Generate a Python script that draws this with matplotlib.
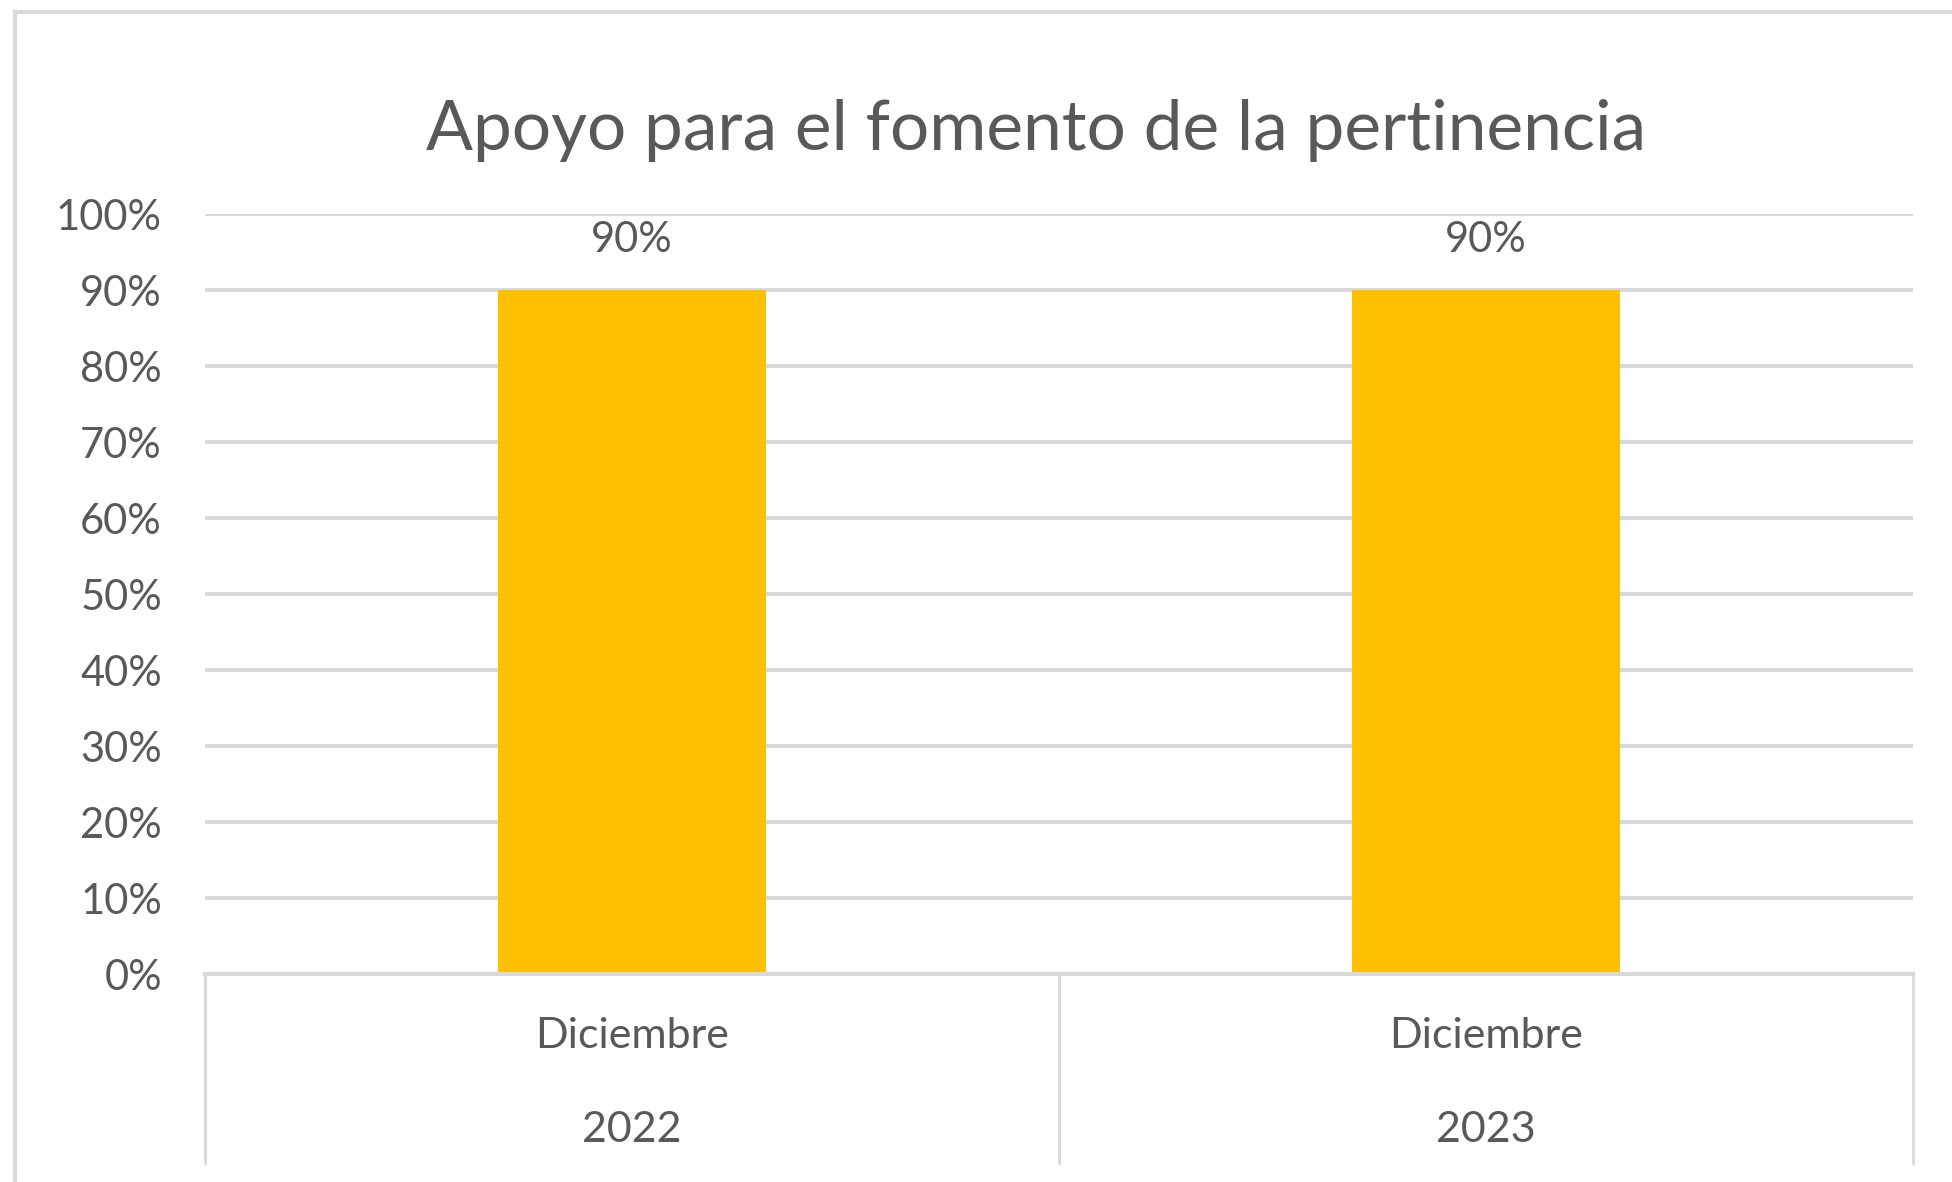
import matplotlib
matplotlib.use("Agg")
import matplotlib.pyplot as plt
from matplotlib.lines import Line2D

title = "Apoyo para el fomento de la pertinencia"
months = ["Diciembre", "Diciembre"]
years = ["2022", "2023"]
values = [0.90, 0.90]
yticks = [0, 0.1, 0.2, 0.3, 0.4, 0.5, 0.6, 0.7, 0.8, 0.9, 1.0]

plt.rcParams['font.family'] = ['Lato', 'DejaVu Sans']
TXT = "#595959"
GRID = "#d9d9d9"
BAR = "#FFC000"
FS = 30

W, H = 1952, 1182
fig = plt.figure(figsize=(W / 100, H / 100), dpi=100)
fig.patch.set_facecolor("white")

ax = fig.add_axes([205 / W, 1 - 974 / H, (1913 - 205) / W, (974 - 214) / H])
x = list(range(len(values)))
ax.bar(x, values, width=0.314, color=BAR, zorder=3)
ax.set_xlim(-0.5, len(values) - 0.5)
ax.set_ylim(0, 1.0)
ax.set_yticks(yticks)
ax.set_yticklabels([f"{int(round(t * 100))}%" for t in yticks], color=TXT, fontsize=FS)
ax.tick_params(axis="y", length=0, pad=31)
ax.set_xticks([])
for s in ax.spines.values():
    s.set_visible(False)
ax.grid(axis="y", color=GRID, linewidth=3, zorder=0)
ax.set_axisbelow(True)

for xi, v in zip(x, values):
    ax.text(xi, v + 0.066, f"{int(round(v * 100))}%", ha="center", va="center",
            fontsize=FS, color=TXT)

# category two-level axis
ax.plot([-0.5, len(values) - 0.5], [0, 0], color=GRID, linewidth=3, clip_on=False, zorder=4)
for b in [-0.5 + i for i in range(len(values) + 1)]:
    ax.plot([b, b], [0, -0.249], color=GRID, linewidth=2, clip_on=False)
for xi, m, yr in zip(x, months, years):
    ax.text(xi, -0.0816, m, ha="center", va="center", fontsize=31, color=TXT)
    ax.text(xi, -0.205, yr, ha="center", va="center", fontsize=31, color=TXT)

fig.text(1036 / W, 1 - 130 / H, title, ha="center", va="center", fontsize=50, color=TXT)

# chart frame
fig.add_artist(Line2D([15 / W, 15 / W], [0, 1 - 12 / H], color=GRID, linewidth=3,
                      transform=fig.transFigure))
fig.add_artist(Line2D([15 / W, 1], [1 - 12 / H, 1 - 12 / H], color=GRID, linewidth=3,
                      transform=fig.transFigure))

fig.savefig("out.png", dpi=100, facecolor="white")
